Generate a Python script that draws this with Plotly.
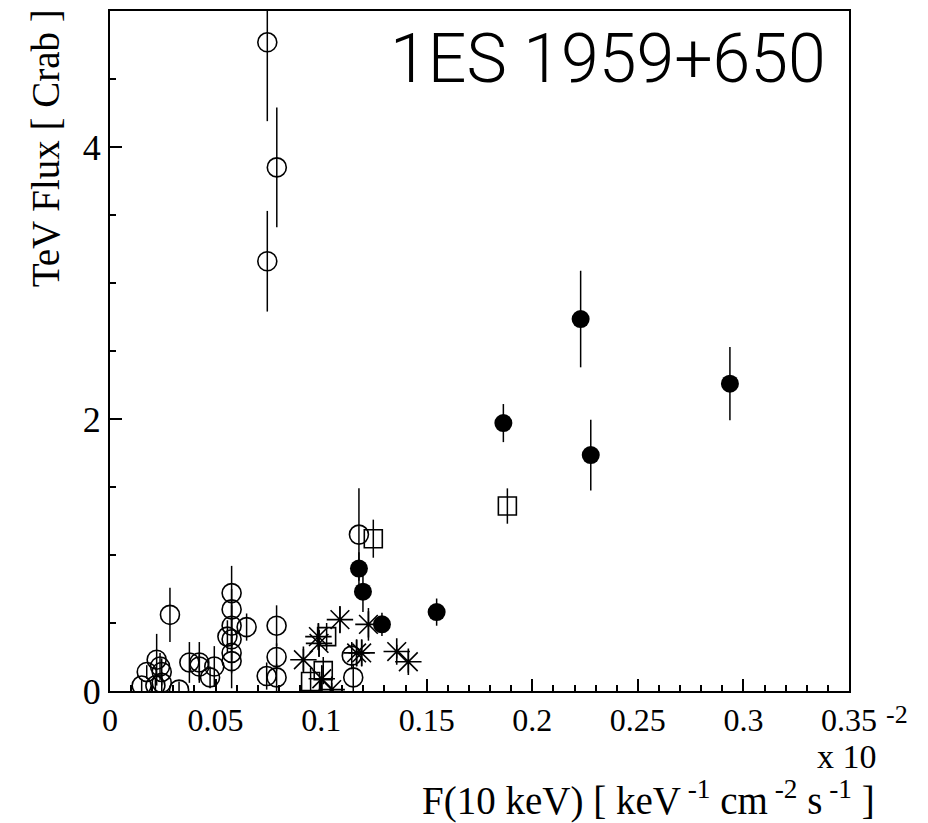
import plotly.graph_objects as go

# Open circles
oc_x = [0.0745, 0.079, 0.0745, 0.0284, 0.0576, 0.0576, 0.0576, 0.0576, 0.0576, 0.0576,
        0.0556, 0.0647, 0.0789, 0.0789, 0.0789, 0.0742, 0.0221, 0.0237, 0.0245, 0.0174,
        0.0245, 0.015, 0.0215, 0.0327, 0.0376, 0.0423, 0.0423, 0.0474, 0.0494,
        0.1179, 0.1145, 0.1152]
oc_y = [4.77, 3.85, 3.16, 0.56, 0.72, 0.60, 0.48, 0.38, 0.28, 0.22,
        0.40, 0.47, 0.48, 0.25, 0.10, 0.11, 0.23, 0.18, 0.14, 0.14,
        0.06, 0.04, 0.04, 0.01, 0.21, 0.21, 0.18, 0.10, 0.18,
        1.15, 0.26, 0.10]
oc_e = [0.58, 0.44, 0.37, 0.20, 0.20, 0.15, 0.15, 0.15, 0.15, 0.20,
        0.12, 0.10, 0.15, 0.10, 0.10, 0.10, 0.19, 0.10, 0.10, 0.05,
        0.08, 0.05, 0.06, 0.06, 0.15, 0.15, 0.10, 0.08, 0.15,
        0.34, 0.10, 0.10]

# Filled circles
fc_x = [0.1179, 0.1198, 0.1288, 0.1547, 0.1863, 0.2229, 0.2277, 0.2936]
fc_y = [0.90, 0.73, 0.49, 0.58, 1.97, 2.735, 1.735, 2.26]
fc_e = [0.12, 0.15, 0.085, 0.10, 0.14, 0.355, 0.26, 0.27]

# Open squares
sq_x = [0.1882, 0.1247, 0.1026, 0.101, 0.095]
sq_y = [1.36, 1.12, 0.40, 0.15, 0.07]
sq_e = [0.13, 0.14, 0.10, 0.10, 0.10]

# Stars
st_x = [0.1089, 0.1224, 0.0987, 0.099, 0.0916, 0.1168, 0.1192, 0.1358, 0.1413, 0.1003, 0.105]
st_y = [0.525, 0.49, 0.40, 0.35, 0.23, 0.28, 0.28, 0.29, 0.215, 0.09, 0.01]
st_e = [0.10, 0.12, 0.10, 0.10, 0.08, 0.10, 0.10, 0.05, 0.08, 0.10, 0.05]

x_ticks = [0, 0.05, 0.1, 0.15, 0.2, 0.25, 0.3, 0.35]
x_labels = ["0", "0.05", "0.1", "0.15", "0.2", "0.25", "0.3", "0.35"]
y_ticks = [0, 2, 4]
y_labels = ["0", "2", "4"]

serif = "Liberation Serif, Times New Roman, serif"

def err(e):
    return dict(type="data", array=e, visible=True, color="black", thickness=1.5, width=0)

fig = go.Figure()
fig.add_trace(go.Scatter(x=oc_x, y=oc_y, mode="markers", error_y=err(oc_e),
                         marker=dict(symbol="circle-open", size=19, color="black", line=dict(width=1.6))))
fig.add_trace(go.Scatter(x=sq_x, y=sq_y, mode="markers", error_y=err(sq_e),
                         marker=dict(symbol="square-open", size=18, color="black", line=dict(width=1.6))))
fig.add_trace(go.Scatter(x=st_x, y=st_y, mode="markers", error_y=err(st_e),
                         marker=dict(symbol="asterisk-open", size=22, color="black", line=dict(width=1.6, color="black"))))
fig.add_trace(go.Scatter(x=fc_x, y=fc_y, mode="markers", error_y=err(fc_e),
                         marker=dict(symbol="circle", size=18, color="black", line=dict(width=0))))

fig.update_layout(
    width=928, height=823,
    margin=dict(l=110, r=79, t=9, b=132),
    paper_bgcolor="white", plot_bgcolor="white",
    showlegend=False,
    font=dict(family=serif, color="black"),
)
fig.update_xaxes(range=[0, 0.35], showgrid=False, zeroline=False,
                 showline=True, linecolor="black", linewidth=2, mirror=True,
                 tickmode="array", tickvals=x_ticks, ticktext=x_labels,
                 ticks="inside", ticklen=12, tickwidth=1.5, tickcolor="black",
                 tickfont=dict(family=serif, size=32, color="black"),
                 minor=dict(dtick=0.01, ticks="inside", ticklen=6, tickwidth=1.5, tickcolor="black"))
fig.update_yaxes(range=[0, 5], showgrid=False, zeroline=False,
                 showline=True, linecolor="black", linewidth=2, mirror=True,
                 tickmode="array", tickvals=y_ticks, ticktext=y_labels,
                 ticks="inside", ticklen=12, tickwidth=1.5, tickcolor="black",
                 tickfont=dict(family=serif, size=36, color="black"),
                 minor=dict(dtick=0.5, ticks="inside", ticklen=6, tickwidth=1.5, tickcolor="black"))

fig.add_annotation(text="1ES 1959+650", xref="paper", yref="paper", x=0.9716, y=0.9296,
                   xanchor="right", yanchor="middle", showarrow=False,
                   font=dict(family="Roboto, Liberation Sans, sans-serif", size=68, weight=300, color="black"))
fig.add_annotation(text="TeV Flux [ Crab ]", xref="paper", yref="paper", x=-0.088, y=0.798,
                   xanchor="center", yanchor="middle", textangle=-90, showarrow=False,
                   font=dict(family=serif, size=39, color="black"))
fig.add_annotation(text="F(10 keV) [ keV<sup> -1</sup> cm<sup> -2</sup> s<sup> -1</sup> ]",
                   xref="paper", yref="paper", x=1.038, y=-0.158,
                   xanchor="right", yanchor="middle", showarrow=False,
                   font=dict(family=serif, size=39, color="black"))
fig.add_annotation(text="x 10",
                   xref="paper", yref="paper", x=1.04, y=-0.097,
                   xanchor="right", yanchor="middle", showarrow=False,
                   font=dict(family=serif, size=34, color="black"))
fig.add_annotation(text="-2",
                   xref="paper", yref="paper", x=1.065, y=-0.034,
                   xanchor="center", yanchor="middle", showarrow=False,
                   font=dict(family=serif, size=26, color="black"))

fig.write_html("out.html")
